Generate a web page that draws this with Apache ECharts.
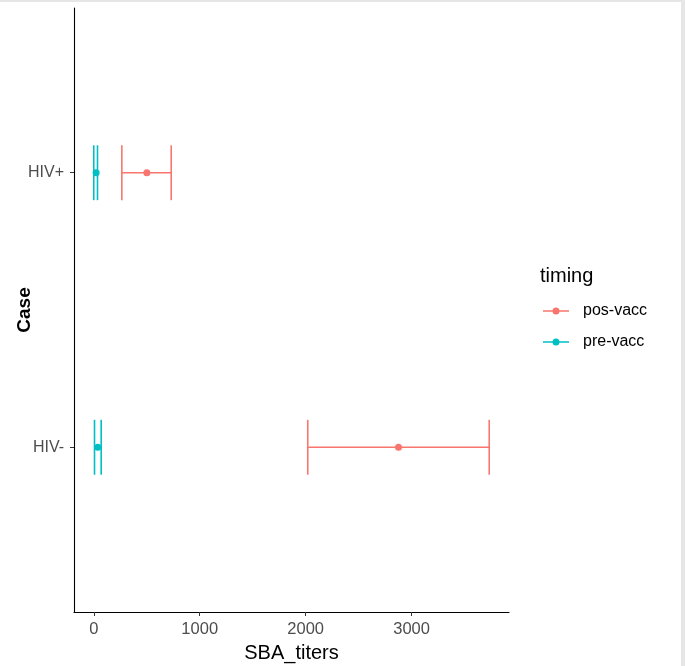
<!doctype html>
<html>
    <head>
        <meta charset="utf-8">
        <title>SBA titers by case</title>
        <style>
            html, body { margin: 0; padding: 0; background: #e6e6e6; }
            #main { position: absolute; left: 0; top: 2px; width: 681px; height: 664px; background: #fff; }
        </style>
    </head>
    <body>
        <div id="main"></div>
        <script src="https://cdn.jsdelivr.net/npm/echarts@6/dist/echarts.min.js"></script>
        <script>

// y positions: 1 = HIV-, 2 = HIV+
var cases = ['HIV-', 'HIV+'];
var caseY = [1, 2];

var posMean = [2877, 501];
var posLow = [2020, 265];
var posHigh = [3733, 731];

var preMean = [38, 22];
var preLow = [7, 0];
var preHigh = [70, 35];

var xTicks = [0, 1000, 2000, 3000];

var font = 'Liberation Sans, Arial, sans-serif';

function rows(mean, low, high) {
    return caseY.map(function (y, i) {
        return [y, mean[i], low[i], high[i]];
    });
}

// ggplot style 5% expansion of the continuous axis
var allVals = posLow.concat(posHigh, preLow, preHigh);
var lo = Math.min.apply(null, allVals), hi = Math.max.apply(null, allVals);
var span = hi - lo;

function renderBar(params, api) {
    var y = api.value(0);
    var m = api.value(1), a = api.value(2), b = api.value(3);
    var pa = api.coord([a, y]);
    var pb = api.coord([b, y]);
    var pm = api.coord([m, y]);
    var top = api.coord([a, y + 0.1])[1];
    var bot = api.coord([a, y - 0.1])[1];
    var color = api.visual('color');
    var st = { stroke: color, lineWidth: 1.6 };
    return {
        type: 'group',
        children: [
            { type: 'line', shape: { x1: pa[0], y1: pa[1], x2: pb[0], y2: pb[1] }, style: st },
            { type: 'line', shape: { x1: pa[0], y1: top, x2: pa[0], y2: bot }, style: st },
            { type: 'line', shape: { x1: pb[0], y1: top, x2: pb[0], y2: bot }, style: st },
            { type: 'circle', shape: { cx: pm[0], cy: pm[1], r: 3.5 }, style: { fill: color } }
        ]
    };
}

var keyIcon = 'path://M0,3.2H9.6V4.8H0Z M16.4,3.2H26V4.8H16.4Z M16.5,4A3.5,3.5 0 1 1 9.5,4A3.5,3.5 0 1 1 16.5,4Z';

var chart = echarts.init(document.getElementById('main'));

chart.setOption({
    animation: false,
    textStyle: { fontFamily: font },
    grid: { left: 74, top: 6, right: 172, bottom: 54, containLabel: false, outerBoundsMode: 'none' },
    title: {
        text: 'timing',
        left: 540,
        top: 263,
        padding: 0,
        textStyle: { fontFamily: font, fontSize: 20, fontWeight: 'normal', color: '#000', lineHeight: 22 }
    },
    legend: {
        orient: 'vertical',
        left: 543,
        top: 301,
        padding: 0,
        itemWidth: 26,
        itemHeight: 7,
        itemGap: 15,
        textStyle: { fontFamily: font, fontSize: 16, color: '#000', lineHeight: 16, padding: [0, 0, 0, 9] },
        data: [
            { name: 'pos-vacc', icon: keyIcon },
            { name: 'pre-vacc', icon: keyIcon }
        ]
    },
    xAxis: {
        type: 'value',
        min: lo - 0.05 * span,
        max: hi + 0.05 * span,
        name: 'SBA_titers',
        nameLocation: 'middle',
        nameGap: 31,
        nameMoveOverlap: false,
        nameTextStyle: { fontFamily: font, fontSize: 20, color: '#000' },
        splitLine: { show: false },
        axisLine: { show: true, onZero: false, lineStyle: { color: '#000', width: 1.1 } },
        axisTick: { show: true, length: 4, lineStyle: { color: '#333' }, customValues: xTicks },
        axisLabel: {
            fontFamily: font, fontSize: 16.5, color: '#4D4D4D', margin: 9,
            customValues: xTicks,
            formatter: function (v) { return String(v); }
        }
    },
    yAxis: {
        type: 'value',
        min: 0.4,
        max: 2.6,
        name: 'Case',
        nameLocation: 'middle',
        nameGap: 40,
        nameMoveOverlap: false,
        nameRotate: 90,
        nameTextStyle: { fontFamily: font, fontSize: 19, fontWeight: 'bold', color: '#000' },
        splitLine: { show: false },
        axisLine: { show: true, onZero: false, lineStyle: { color: '#000', width: 1.1 } },
        axisTick: { show: true, length: 4, lineStyle: { color: '#333' }, customValues: caseY },
        axisLabel: {
            fontFamily: font, fontSize: 16, color: '#4D4D4D', margin: 10,
            customValues: caseY,
            formatter: function (v) { return cases[Math.round(v) - 1]; }
        }
    },
    series: [
        {
            name: 'pos-vacc',
            type: 'custom',
            itemStyle: { color: '#F8766D' },
            renderItem: renderBar,
            encode: { x: [1, 2, 3], y: 0 },
            data: rows(posMean, posLow, posHigh)
        },
        {
            name: 'pre-vacc',
            type: 'custom',
            itemStyle: { color: '#00BFC4' },
            renderItem: renderBar,
            encode: { x: [1, 2, 3], y: 0 },
            data: rows(preMean, preLow, preHigh)
        }
    ]
});
        </script>
    </body>
</html>
